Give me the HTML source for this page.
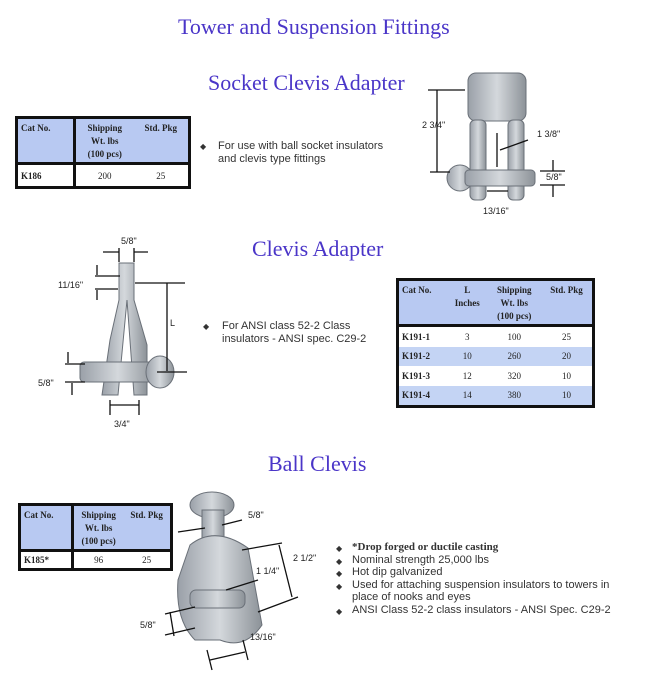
<!DOCTYPE html>
<html><head><meta charset="utf-8">
<style>
body{margin:0;width:650px;height:700px;background:#fff;position:relative;overflow:hidden;font-family:"Liberation Sans",sans-serif}
.t{position:absolute;font-family:"Liberation Serif",serif;color:#4a35c8;white-space:nowrap}
.s{position:absolute;font-size:11px;color:#333;line-height:13px;white-space:nowrap}
.b{position:absolute;font-size:8px;color:#333}
table{position:absolute;border-collapse:separate;border-spacing:0;border:3px solid #111;background:#111;font-family:"Liberation Serif",serif;font-size:9px;color:#222}
td{background:#fff;text-align:center;vertical-align:middle;padding:0}
th{background:#b8c9f2;font-weight:bold;vertical-align:top;text-align:center;padding:3px 2px 0;line-height:13px}
.l{text-align:left;font-weight:bold;padding-left:3px}
.lab{position:absolute;font-size:9px;color:#222;white-space:nowrap}
</style></head><body>
<div class="t" style="left:178px;top:14px;font-size:22px">Tower and Suspension Fittings</div>
<div class="t" style="left:208px;top:70px;font-size:22px">Socket Clevis Adapter</div>
<div class="t" style="left:252px;top:236px;font-size:22px">Clevis Adapter</div>
<div class="t" style="left:268px;top:451px;font-size:22px">Ball Clevis</div>

<table style="left:15px;top:116px;width:176px;height:73px">
<tr style="height:46px"><th class="l" style="width:50px;border-right:3px solid #111;border-bottom:3px solid #111">Cat No.</th><th style="border-bottom:3px solid #111">Shipping<br>Wt. lbs<br>(100 pcs)</th><th style="border-bottom:3px solid #111">Std. Pkg</th></tr>
<tr><td class="l" style="border-right:3px solid #111">K186</td><td>200</td><td>25</td></tr>
</table>
<div class="b" style="left:200px;top:142px">◆</div>
<div class="s" style="left:218px;top:140px">For use with ball socket insulators<br>and clevis type fittings</div>

<table style="left:396px;top:278px;width:199px;height:130px">
<tr style="height:46px"><th class="l" style="border-bottom:3px solid #111">Cat No.</th><th style="border-bottom:3px solid #111">L<br>Inches</th><th style="border-bottom:3px solid #111">Shipping<br>Wt. lbs<br>(100 pcs)</th><th style="border-bottom:3px solid #111">Std. Pkg</th></tr>
<tr><td class="l">K191-1</td><td>3</td><td>100</td><td>25</td></tr>
<tr><td class="l" style="background:#c4d4f4">K191-2</td><td style="background:#c4d4f4">10</td><td style="background:#c4d4f4">260</td><td style="background:#c4d4f4">20</td></tr>
<tr><td class="l">K191-3</td><td>12</td><td>320</td><td>10</td></tr>
<tr><td class="l" style="background:#c4d4f4">K191-4</td><td style="background:#c4d4f4">14</td><td style="background:#c4d4f4">380</td><td style="background:#c4d4f4">10</td></tr>
</table>
<div class="b" style="left:203px;top:322px">◆</div>
<div class="s" style="left:222px;top:320px">For ANSI class 52-2 Class<br>insulators - ANSI spec. C29-2</div>

<table style="left:18px;top:503px;width:155px;height:68px">
<tr style="height:46px"><th class="l" style="width:45px;border-right:3px solid #111;border-bottom:3px solid #111">Cat No.</th><th style="border-bottom:3px solid #111">Shipping<br>Wt. lbs<br>(100 pcs)</th><th style="border-bottom:3px solid #111">Std. Pkg</th></tr>
<tr><td class="l" style="border-right:3px solid #111">K185*</td><td>96</td><td>25</td></tr>
</table>
<div class="b" style="left:336px;top:543px;line-height:12.5px">◆<br>◆<br>◆<br>◆<br><br>◆</div>
<div class="s" style="left:352px;top:541px;line-height:12.5px"><b style="font-family:'Liberation Serif',serif">*Drop forged or ductile casting</b><br>Nominal strength 25,000 lbs<br>Hot dip galvanized<br>Used for attaching suspension insulators to towers in<br>place of nooks and eyes<br>ANSI Class 52-2 class insulators - ANSI Spec. C29-2</div>

<svg style="position:absolute;left:0;top:0" width="650" height="700">
<defs><linearGradient id="g" x1="0" x2="1"><stop offset="0" stop-color="#9aa0a8"/><stop offset=".5" stop-color="#d4d8dc"/><stop offset="1" stop-color="#8c9298"/></linearGradient></defs>
<g fill="url(#g)" stroke="#6a7078" stroke-width="1">
<!-- socket clevis -->
<rect x="468" y="73" width="58" height="48" rx="8"/>
<rect x="470" y="120" width="16" height="80" rx="5"/>
<rect x="508" y="120" width="16" height="80" rx="5"/>
<circle cx="460" cy="178" r="13"/>
<rect x="465" y="170" width="70" height="16" rx="4"/>
<!-- clevis adapter -->
<path d="M119 263 L134 263 L134 300 L147 345 L147 395 L134 395 L127 300 L118 395 L102 395 L110 340 L119 300 Z"/>
<rect x="80" y="362" width="76" height="20" rx="4"/>
<ellipse cx="160" cy="372" rx="14" ry="16"/>
<!-- ball clevis -->
<ellipse cx="212" cy="505" rx="22" ry="13"/>
<rect x="202" y="510" width="22" height="38"/>
<path d="M190 545 Q215 525 248 548 L262 625 Q245 650 220 640 L195 640 Q175 620 178 580 Z"/>
<rect x="190" y="590" width="55" height="18" rx="6"/>
</g>
<g stroke="#111" stroke-width="1.3" fill="none">
<path d="M428 90 H465 M437 90 V172 M430 172 H450"/>
<path d="M497 133 V167 M500 150 L528 140"/>
<path d="M540 171 H565 M540 185 H565 M553 160 V171 M553 185 V197"/>
<path d="M487 191 H508"/>
<path d="M103 252 H119 M134 252 H148 M119 248 V262 M134 248 V262"/>
<path d="M97 265 V275 M95 276 H120 M97 290 V300 M95 289 H118"/>
<path d="M135 283 H185 M167 283 V371 M157 372 H187"/>
<path d="M68 352 V363 M65 364 H85 M65 382 H85 M72 383 V395"/>
<path d="M110 400 V415 M139 400 V415 M110 405 H139"/>
<path d="M178 532 L205 528 M222 525 L242 520"/>
<path d="M242 550 L282 543 M258 612 L298 597 M279 545 L292 597"/>
<path d="M226 590 L258 580"/>
<path d="M165 614 L195 607 M165 635 L195 628 M170 612 L174 636"/>
<path d="M207 650 L212 670 M243 640 L248 660 M210 660 L245 652"/>
</g>
</svg>
<div class="lab" style="left:422px;top:120px">2 3/4"</div>
<div class="lab" style="left:537px;top:129px">1 3/8"</div>
<div class="lab" style="left:546px;top:172px">5/8"</div>
<div class="lab" style="left:483px;top:206px">13/16"</div>
<div class="lab" style="left:121px;top:236px">5/8"</div>
<div class="lab" style="left:58px;top:280px">11/16"</div>
<div class="lab" style="left:170px;top:318px">L</div>
<div class="lab" style="left:38px;top:378px">5/8"</div>
<div class="lab" style="left:114px;top:419px">3/4"</div>
<div class="lab" style="left:248px;top:510px">5/8"</div>
<div class="lab" style="left:293px;top:553px">2 1/2"</div>
<div class="lab" style="left:256px;top:566px">1 1/4"</div>
<div class="lab" style="left:140px;top:620px">5/8"</div>
<div class="lab" style="left:250px;top:632px">13/16"</div>
</body></html>
